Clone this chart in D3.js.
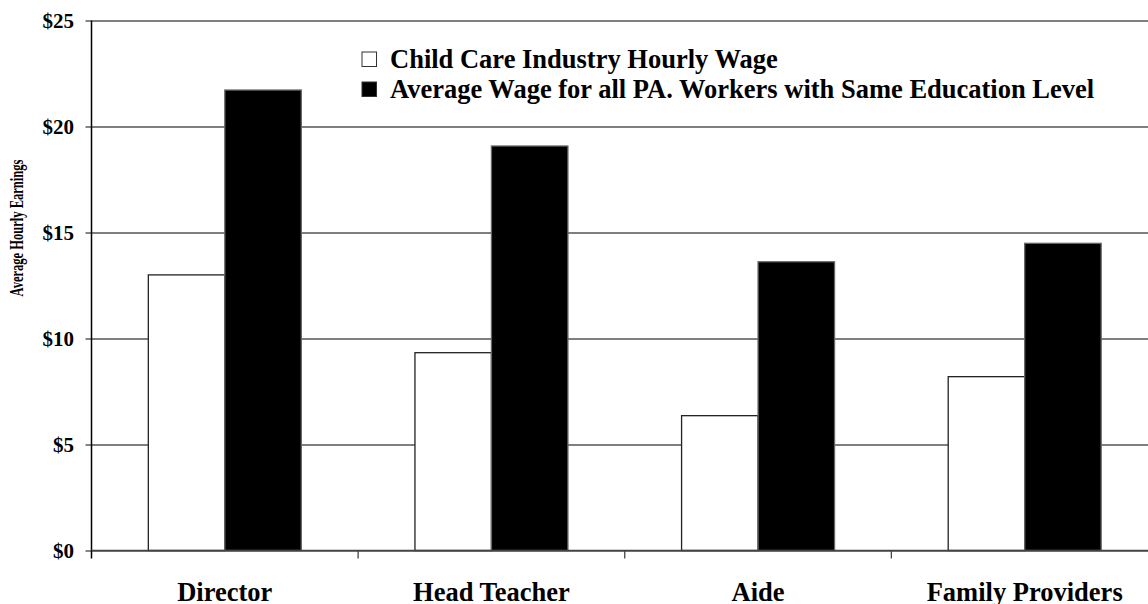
<!DOCTYPE html>
<html lang="en">
	<head>
		<meta charset="utf-8">
		<title>Child care wages</title>
		<script src="https://d3js.org/d3.v7.min.js"></script>
		<style>
			body {
				margin: 0;
				background: #ffffff;
			}
			text {
				font-family: "Liberation Serif", "Times New Roman", serif;
				font-weight: bold;
				fill: #000000;
			}
			.grid line {
				stroke: #555555;
				stroke-width: 1.3;
			}
			.grid path {
				display: none;
			}
		</style>
	</head>
	<body>
		<div id="chart"></div>
		<script type="text/javascript">
			// data
			var categories = ["Director", "Head Teacher", "Aide", "Family Providers"];
			var seriesNames = ["Child Care Industry Hourly Wage", "Average Wage for all PA. Workers with Same Education Level"];
			var childCareWage = [13.0, 9.33, 6.36, 8.2];
			var paWorkerWage = [21.72, 19.08, 13.62, 14.49];
			var yTicks = [0, 5, 10, 15, 20, 25];
			var seriesFill = ["#ffffff", "#000000"];

			// settings for window
			var w = 1148;
			var h = 604;
			var plotLeft = 91.5, plotRight = 1158, plotTop = 20.5, plotBottom = 550.5;

			var svg = d3.select("#chart").append("svg").attr("width", w).attr("height", h);

			var x0 = d3.scaleBand().domain(categories).range([plotLeft, plotRight]);
			var x1 = d3.scaleBand().domain([0, 1]).range([0, x0.bandwidth()]).paddingInner(0).paddingOuter(0.743);
			var y = d3.scaleLinear().domain([0, 25]).range([plotBottom, plotTop]);

			// gridlines
			var grid = d3.axisLeft(y).tickValues(yTicks).tickSize(-(w - plotLeft)).tickFormat("");
			svg.append("g").attr("class", "grid").attr("transform", "translate(" + plotLeft + ",0)").call(grid);

			// bars
			var rows = categories.map(function(c, i) { return [childCareWage[i], paWorkerWage[i]]; });
			var groups = svg.selectAll(".group").data(rows).enter().append("g")
				.attr("class", "group")
				.attr("transform", function(d, i) { return "translate(" + x0(categories[i]) + ",0)"; });
			groups.selectAll("rect").data(function(d) { return d; }).enter().append("rect")
				.attr("x", function(d, j) { return x1(j); })
				.attr("y", function(d) { return y(d); })
				.attr("width", x1.bandwidth())
				.attr("height", function(d) { return y(0) - y(d); })
				.attr("fill", function(d, j) { return seriesFill[j]; })
				.attr("stroke", function(d, j) { return j == 0 ? "#222222" : "#666666"; })
				.attr("stroke-width", 1.3);

			// y axis
			var yAxis = d3.axisLeft(y).tickValues(yTicks).tickSize(6).tickPadding(11.5).tickFormat(function(d) { return "$" + d; });
			var yg = svg.append("g").attr("transform", "translate(" + plotLeft + ",0)").call(yAxis);
			yg.select(".domain").remove();
			yg.selectAll("line").attr("stroke", "#444444").attr("stroke-width", 1.3);
			yg.selectAll("text").style("font-size", "21px").attr("dy", "0.35em");
			svg.append("line").attr("x1", plotLeft).attr("x2", plotLeft).attr("y1", plotTop).attr("y2", plotBottom + 8)
				.attr("stroke", "#000000").attr("stroke-width", 1.5);

			// x axis
			var xAxis = d3.axisBottom(x0).tickSize(0).tickPadding(40);
			var xg = svg.append("g").attr("transform", "translate(0," + plotBottom + ")").call(xAxis);
			xg.select(".domain").remove();
			xg.selectAll("text").style("font-size", "26.5px").attr("dy", "0.4em");
			svg.append("line").attr("x1", plotLeft).attr("x2", w).attr("y1", plotBottom).attr("y2", plotBottom)
				.attr("stroke", "#444444").attr("stroke-width", 1.5);
			// category boundary ticks
			svg.selectAll(".xtick").data(categories.slice(1)).enter().append("line")
				.attr("class", "xtick")
				.attr("x1", function(d) { return x0(d); })
				.attr("x2", function(d) { return x0(d); })
				.attr("y1", plotBottom)
				.attr("y2", plotBottom + 8)
				.attr("stroke", "#444444").attr("stroke-width", 1.3);

			// y axis title (condensed, as in the original)
			svg.append("text")
				.attr("transform", "translate(23,228) rotate(-90) scale(0.66,1)")
				.style("text-anchor", "middle")
				.style("font-size", "19px")
				.text("Average Hourly Earnings");

			// legend
			var legend = svg.append("g").attr("transform", "translate(362,52)");
			var items = legend.selectAll(".item").data(seriesNames).enter().append("g")
				.attr("class", "item")
				.attr("transform", function(d, i) { return "translate(0," + (i * 30) + ")"; });
			items.append("rect").attr("width", 14.5).attr("height", 14.5)
				.attr("fill", function(d, i) { return seriesFill[i]; })
				.attr("stroke", "#333333").attr("stroke-width", 1);
			items.append("text").attr("x", 28).attr("y", 15.5)
				.style("font-size", "26.5px")
				.text(function(d) { return d; });
		</script>
	</body>
</html>
